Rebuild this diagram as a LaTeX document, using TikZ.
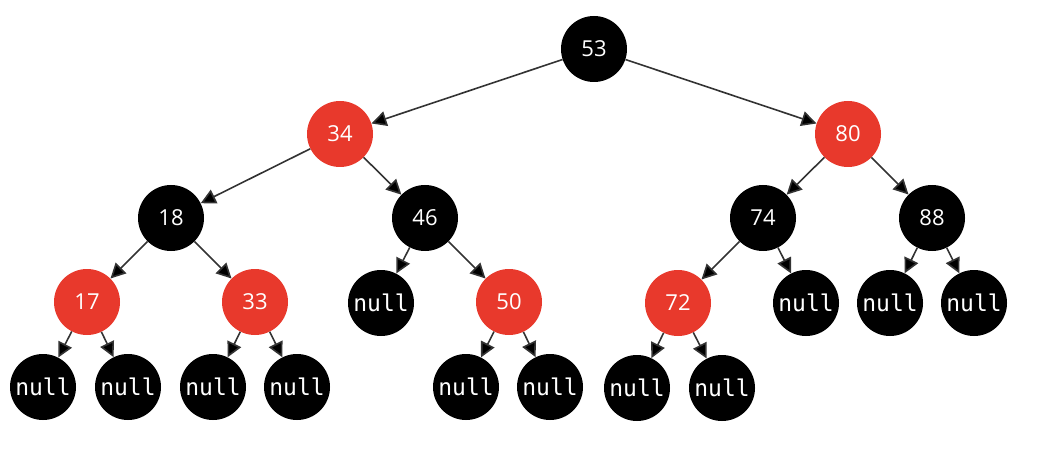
\documentclass[tikz,border=0pt]{standalone}
\usepackage{fontspec}
\setmainfont{Open Sans}
\newfontfamily\monof{DejaVu Sans Mono}
\usetikzlibrary{arrows.meta}
\definecolor{rbred}{HTML}{E8392C}
\definecolor{edgec}{HTML}{333333}
\tikzset{
  nd/.style={circle, minimum size=66pt, inner sep=0pt, text=white, font=\fontsize{22}{22}\selectfont},
  blk/.style={nd, fill=black},
  rd/.style={nd, fill=rbred},
  nl/.style={nd, fill=black, font=\monof\fontsize{23}{23}\selectfont},
  ed/.style={draw=edgec, line width=1.6pt, -{Triangle[length=15pt,width=15pt,fill=black]}},
}
\begin{document}
\begin{tikzpicture}[x=1pt,y=-1pt]
\useasboundingbox (0,0) rectangle (1040,470);
\node[blk] (n53) at (594,49) {53};
\node[rd] (n34) at (340,134) {34};
\node[rd] (n80) at (848,134) {80};
\node[blk] (n18) at (171,218) {18};
\node[blk] (n46) at (425,218) {46};
\node[blk] (n74) at (763,218) {74};
\node[blk] (n88) at (932,218) {88};
\node[rd] (n17) at (87,302) {17};
\node[rd] (n33) at (255,302) {33};
\node[nl] (x46l) at (381,303) {null};
\node[rd] (n50) at (509,302) {50};
\node[rd] (n72) at (678,303) {72};
\node[nl] (x74r) at (806,303) {null};
\node[nl] (x88l) at (890,303) {null};
\node[nl] (x88r) at (974,303) {null};
\node[nl] (x17l) at (43,387) {null};
\node[nl] (x17r) at (128,387) {null};
\node[nl] (x33l) at (213,387) {null};
\node[nl] (x33r) at (297,387) {null};
\node[nl] (x50l) at (466,387) {null};
\node[nl] (x50r) at (550,387) {null};
\node[nl] (x72l) at (637,388) {null};
\node[nl] (x72r) at (722,388) {null};
\foreach \a/\b in {n53/n34,n53/n80,n34/n18,n34/n46,n80/n74,n80/n88,
  n18/n17,n18/n33,n46/x46l,n46/n50,n74/n72,n74/x74r,n88/x88l,n88/x88r,
  n17/x17l,n17/x17r,n33/x33l,n33/x33r,n50/x50l,n50/x50r,n72/x72l,n72/x72r}
  \draw[ed] (\a) -- (\b);
\end{tikzpicture}
\end{document}
